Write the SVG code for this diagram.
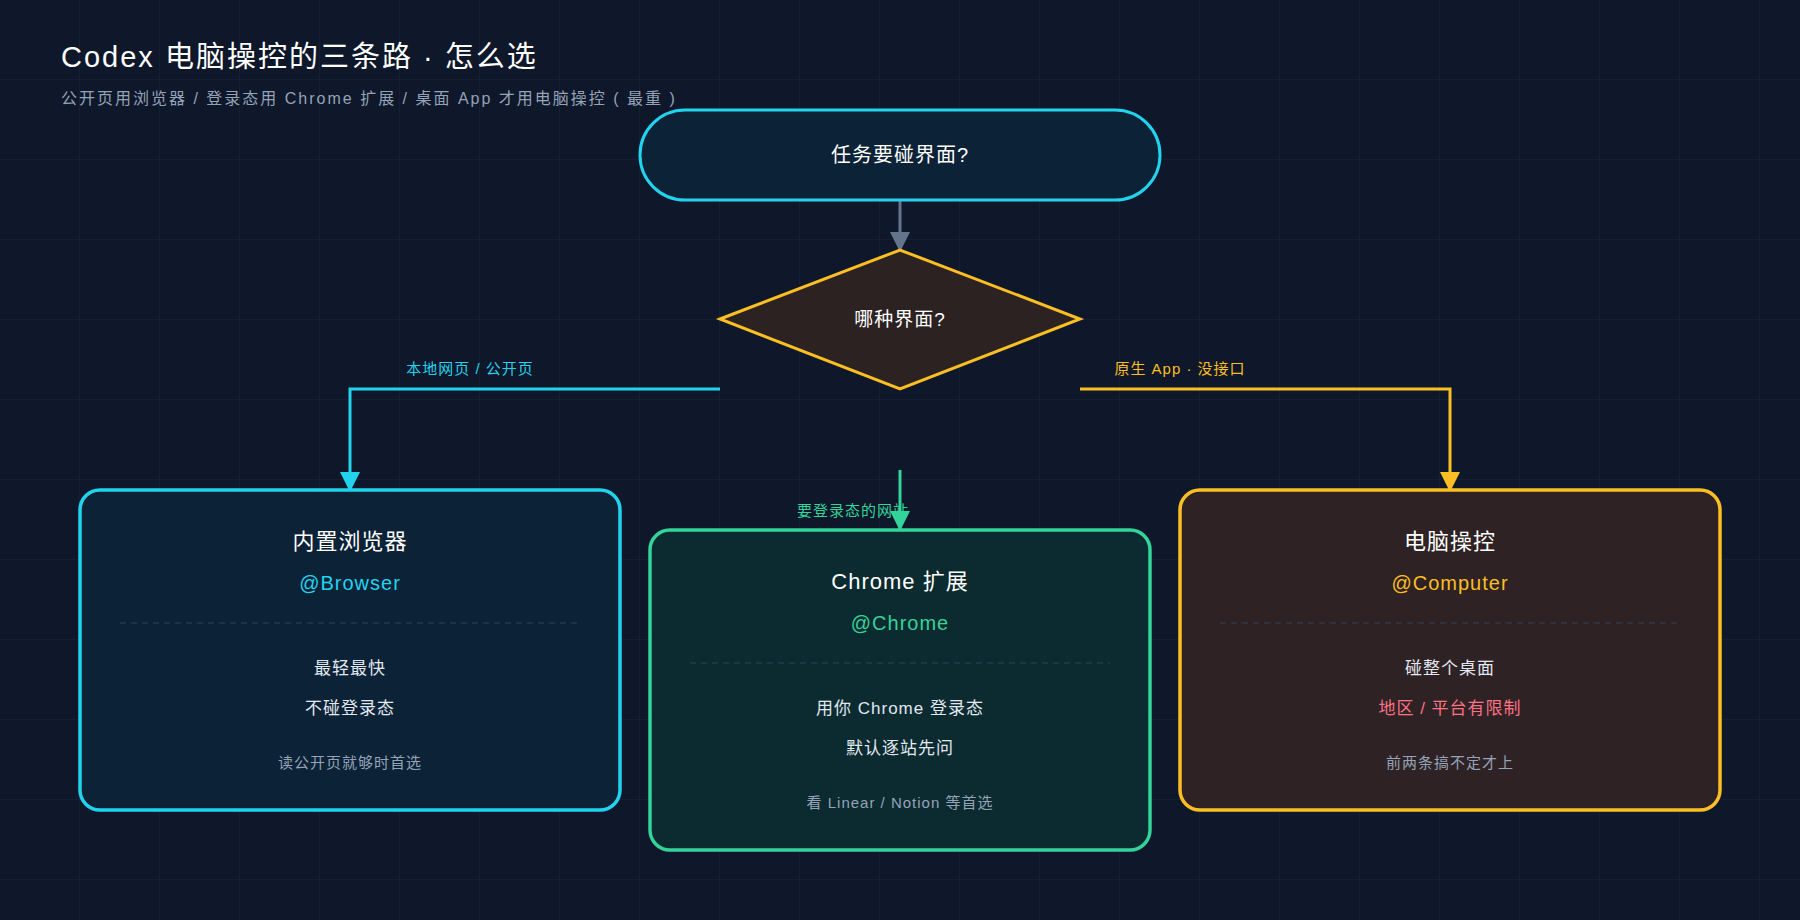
<svg xmlns="http://www.w3.org/2000/svg" width="1800" height="920" viewBox="0 0 1800 920">
<defs>
<pattern id="grid" width="80" height="80" patternUnits="userSpaceOnUse"><path d="M80 0V80M0 80H80" fill="none" stroke="#1a2538" stroke-width="1"/></pattern>
<marker id="aC" viewBox="0 0 10 10" refX="9" refY="5" markerWidth="26" markerHeight="20" orient="auto" markerUnits="userSpaceOnUse"><path d="M0 0L10 5L0 10z" fill="#22d3ee"/></marker>
<marker id="aY" viewBox="0 0 10 10" refX="9" refY="5" markerWidth="26" markerHeight="20" orient="auto" markerUnits="userSpaceOnUse"><path d="M0 0L10 5L0 10z" fill="#fbbf24"/></marker>
<marker id="aE" viewBox="0 0 10 10" refX="9" refY="5" markerWidth="26" markerHeight="20" orient="auto" markerUnits="userSpaceOnUse"><path d="M0 0L10 5L0 10z" fill="#34d399"/></marker>
<marker id="aS" viewBox="0 0 10 10" refX="9" refY="5" markerWidth="26" markerHeight="20" orient="auto" markerUnits="userSpaceOnUse"><path d="M0 0L10 5L0 10z" fill="#64748b"/></marker>
</defs>
<style>
text{font-family:"Liberation Sans","Noto Sans CJK SC",sans-serif;text-anchor:middle;letter-spacing:1px}
.t{fill:#fff;font-size:22px}
.b{fill:#e2e8f0;font-size:17px}
.n{fill:#94a3b8;font-size:15px}
.l{font-size:15px}
.dash{stroke:#334155;stroke-width:1;stroke-dasharray:6 5}
</style>
<rect width="1800" height="920" fill="#0f172a"/>
<rect width="1800" height="920" fill="url(#grid)"/>
<text x="61" y="67" style="text-anchor:start;font-size:29px;fill:#fff;letter-spacing:2px">Codex 电脑操控的三条路 · 怎么选</text>
<text x="61" y="104" style="text-anchor:start;font-size:16px;fill:#94a3b8;letter-spacing:2px">公开页用浏览器 / 登录态用 Chrome 扩展 / 桌面 App 才用电脑操控 ( 最重 )</text>
<g id="connectors" fill="none" stroke-width="3">
<path d="M900 200V250" stroke="#64748b" marker-end="url(#aS)"/>
<path d="M720 389H350V490" stroke="#22d3ee" marker-end="url(#aC)"/>
<path d="M1080 389H1450V490" stroke="#fbbf24" marker-end="url(#aY)"/>
<path d="M900 470V529" stroke="#34d399" marker-end="url(#aE)"/>
<text x="470" y="374" class="l" fill="#22d3ee" stroke="none">本地网页 / 公开页</text>
<text x="1180" y="374" class="l" fill="#fbbf24" stroke="none">原生 App · 没接口</text>
</g>
<g id="start">
<rect x="640" y="110" width="520" height="90" rx="45" fill="#0c2236" stroke="#22d3ee" stroke-width="3"/>
<text x="900" y="162" style="fill:#fff;font-size:20px">任务要碰界面?</text>
</g>
<g id="decision">
<polygon points="720,319 900,250 1080,319 900,389" fill="#2d2222" stroke="#fbbf24" stroke-width="3"/>
<text x="900" y="326" style="fill:#fff;font-size:19px">哪种界面?</text>
</g>
<g id="browser">
<rect x="80" y="490" width="540" height="320" rx="20" fill="#0c2236" stroke="#22d3ee" stroke-width="3.5"/>
<text x="350" y="549" class="t">内置浏览器</text>
<text x="350" y="590" style="fill:#22d3ee;font-size:20px">@Browser</text>
<line x1="120" y1="623" x2="580" y2="623" class="dash"/>
<text x="350" y="674" class="b">最轻最快</text>
<text x="350" y="714" class="b">不碰登录态</text>
<text x="350" y="768" class="n">读公开页就够时首选</text>
</g>
<g id="chrome">
<rect x="650" y="530" width="500" height="320" rx="20" fill="#0b2b30" stroke="#34d399" stroke-width="3.5"/>
<text x="900" y="589" class="t">Chrome 扩展</text>
<text x="900" y="630" style="fill:#34d399;font-size:20px">@Chrome</text>
<line x1="690" y1="663" x2="1110" y2="663" class="dash"/>
<text x="900" y="714" class="b">用你 Chrome 登录态</text>
<text x="900" y="754" class="b">默认逐站先问</text>
<text x="900" y="808" class="n">看 Linear / Notion 等首选</text>
</g>
<text x="853" y="516" class="l" fill="#34d399">要登录态的网站</text>
<g id="computer">
<rect x="1180" y="490" width="540" height="320" rx="20" fill="#2f2224" stroke="#fbbf24" stroke-width="3.5"/>
<text x="1450" y="549" class="t">电脑操控</text>
<text x="1450" y="590" style="fill:#fbbf24;font-size:20px">@Computer</text>
<line x1="1220" y1="623" x2="1680" y2="623" class="dash"/>
<text x="1450" y="674" class="b">碰整个桌面</text>
<text x="1450" y="714" style="fill:#fb7185;font-size:17px">地区 / 平台有限制</text>
<text x="1450" y="768" class="n">前两条搞不定才上</text>
</g>
</svg>
